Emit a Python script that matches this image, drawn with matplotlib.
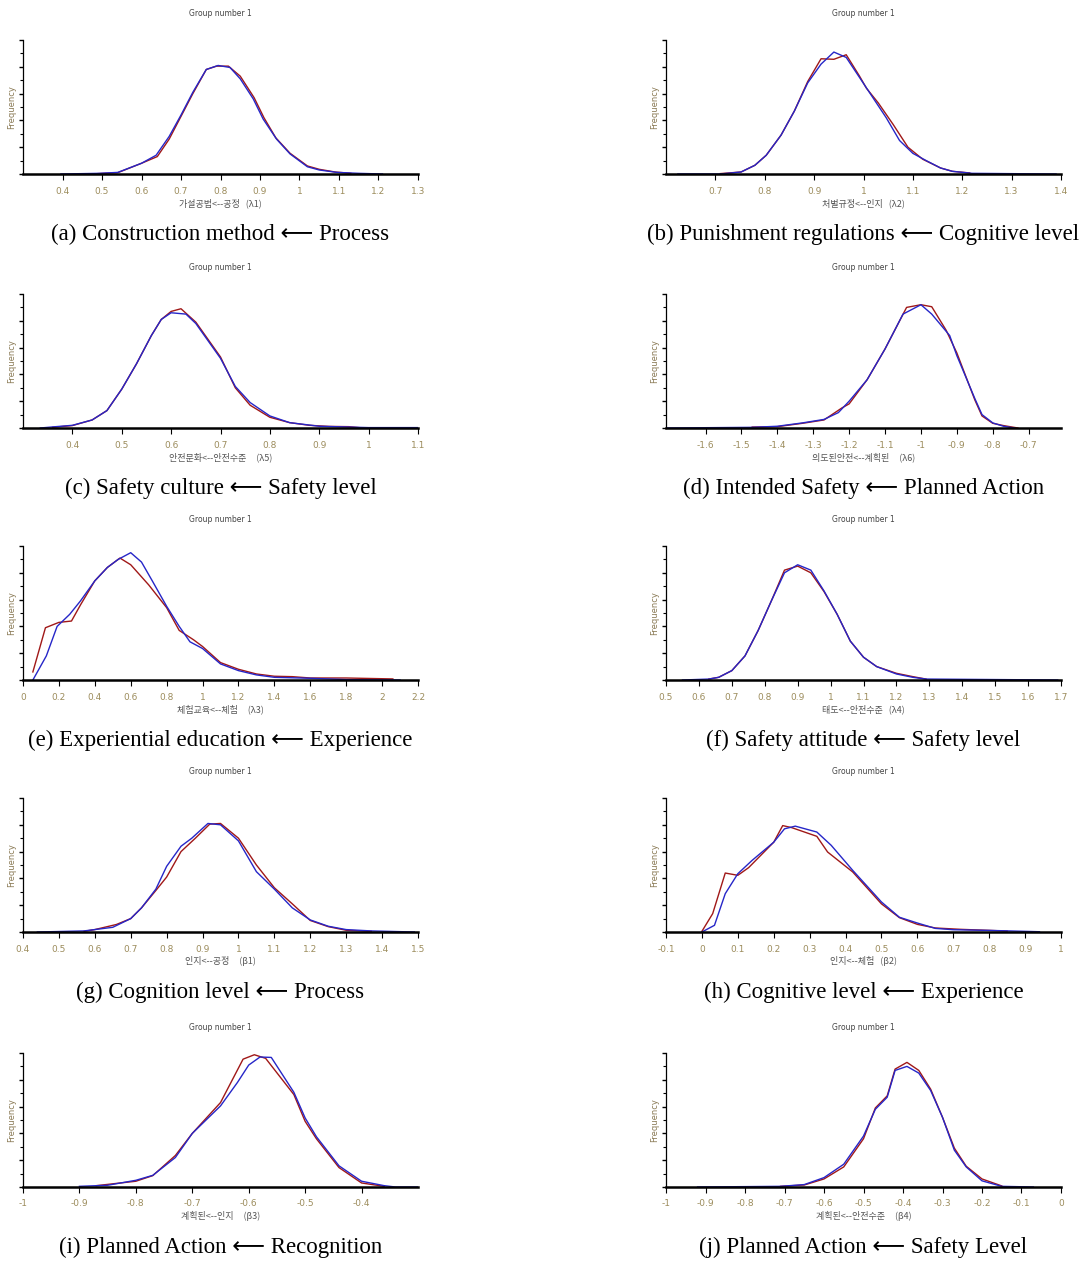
import matplotlib.pyplot as plt
import numpy as np

W, H = 1084, 1261

# ---- data (y in % of axis height) ----
# (a)
a_x_blue = [0.396, 0.493, 0.54, 0.6, 0.637, 0.67, 0.7, 0.73, 0.764, 0.794, 0.824, 0.85, 0.883, 0.908, 0.942, 0.976, 1.02, 1.05, 1.095, 1.15, 1.21]
a_y_blue = [0, 0.5, 1.2, 8, 14, 28, 44, 61, 78, 81, 79.5, 71, 56, 41, 26, 15, 5.4, 3, 1.2, 0.5, 0]
a_x_red = [0.49, 0.54, 0.6, 0.64, 0.67, 0.7, 0.73, 0.764, 0.79, 0.82, 0.85, 0.885, 0.91, 0.94, 0.976, 1.02, 1.05, 1.09, 1.13]
a_y_red = [0.3, 1.0, 8, 13, 26, 43, 60, 78, 80.5, 80.5, 73, 57, 42, 27, 15.5, 6, 3.5, 1.5, 0.5]

# (b)
b_x_blue = [0.624, 0.71, 0.752, 0.78, 0.803, 0.833, 0.86, 0.887, 0.914, 0.94, 0.965, 0.992, 1.019, 1.046, 1.073, 1.1, 1.127, 1.156, 1.18, 1.22, 1.39]
b_y_blue = [0, 0, 1.5, 6.5, 14, 29, 47, 68, 82, 91, 87, 72, 57, 42, 25, 15.4, 10, 4.5, 2, 0.5, 0]
b_x_red = [0.71, 0.752, 0.78, 0.803, 0.833, 0.86, 0.887, 0.914, 0.94, 0.965, 0.992, 1.006, 1.03, 1.06, 1.09, 1.12, 1.156, 1.18, 1.215]
b_y_red = [0.3, 1.5, 6.5, 14, 29, 47, 69, 86, 85.6, 89, 73, 64, 53, 37, 20, 11, 4.5, 2, 0.8]

# (c)
c_x_blue = [0.335, 0.36, 0.4, 0.44, 0.47, 0.5, 0.53, 0.56, 0.58, 0.6, 0.63, 0.65, 0.7, 0.73, 0.76, 0.8, 0.84, 0.9, 1.0, 1.1]
c_y_blue = [0, 0.8, 2, 6, 13, 29, 48, 69, 81, 86, 85, 78, 52, 31, 19, 9, 4, 1.3, 0.3, 0.3]
c_x_red = [0.36, 0.4, 0.44, 0.47, 0.5, 0.53, 0.56, 0.58, 0.6, 0.62, 0.65, 0.7, 0.73, 0.76, 0.8, 0.84, 0.88, 0.92, 0.96, 0.98]
c_y_red = [0.5, 1.8, 6, 13, 29, 48, 69, 81, 87, 89, 79, 53, 30, 17, 8, 4, 2, 1.2, 1.0, 0.3]

# (d)
d_x_blue = [-1.71, -1.47, -1.4, -1.33, -1.27, -1.23, -1.2, -1.15, -1.1, -1.05, -1.0, -0.97, -0.92, -0.9, -0.85, -0.83, -0.8, -0.77, -0.74]
d_y_blue = [0, 0.5, 1.3, 3.8, 6.4, 11.5, 20, 36, 59, 85, 92, 85, 69, 54, 22, 10, 3.8, 1.3, 0]
d_x_red = [-1.47, -1.4, -1.33, -1.27, -1.22, -1.2, -1.15, -1.1, -1.04, -1.0, -0.97, -0.93, -0.9, -0.85, -0.83, -0.8, -0.77, -0.73]
d_y_red = [0.7, 1.0, 3.5, 6.0, 15, 18, 36, 59, 90, 92, 90.5, 73, 56, 21, 9, 3.5, 1.8, 0]

# (e)
e_x_blue = [0.055, 0.13, 0.19, 0.26, 0.32, 0.4, 0.47, 0.53, 0.6, 0.66, 0.72, 0.8, 0.87, 0.93, 1.0, 1.1, 1.2, 1.3, 1.4, 1.6, 1.8, 2.1]
e_y_blue = [0, 18, 40, 49, 59, 74, 84, 90, 95, 88, 74, 55, 40, 28.5, 23.5, 12, 7, 3.8, 2, 1.3, 0.3, 0]
e_x_red = [0.055, 0.125, 0.2, 0.27, 0.32, 0.4, 0.47, 0.54, 0.6, 0.7, 0.8, 0.87, 0.95, 1.0, 1.1, 1.2, 1.3, 1.4, 1.5, 1.6, 1.8, 2.06]
e_y_red = [6, 39, 43, 44, 56, 74, 84, 91, 86, 71, 54, 37, 30, 25, 13, 8, 4.5, 2.8, 2.5, 1.5, 1.5, 0.8]

# (f)
f_x_blue = [0.55, 0.63, 0.66, 0.7, 0.74, 0.78, 0.82, 0.86, 0.9, 0.94, 0.98, 1.02, 1.06, 1.1, 1.14, 1.2, 1.25, 1.29, 1.69]
f_y_blue = [0, 0.7, 2, 7, 18, 37, 59, 80, 86, 82, 66.5, 49, 29, 17, 10, 4.5, 2, 0.7, 0]
f_x_red = [0.63, 0.66, 0.7, 0.74, 0.78, 0.82, 0.86, 0.9, 0.94, 0.98, 1.02, 1.06, 1.1, 1.14, 1.2, 1.25, 1.29]
f_y_red = [0.7, 2, 7, 18, 37, 59, 82, 85, 80, 66, 49, 29, 17, 10, 5, 2.5, 0.7]

# (g)
g_x_blue = [0.44, 0.57, 0.65, 0.7, 0.73, 0.77, 0.8, 0.84, 0.87, 0.915, 0.95, 1.0, 1.05, 1.1, 1.15, 1.2, 1.25, 1.3, 1.37, 1.49]
g_y_blue = [0, 0.8, 3.5, 10, 18, 32, 49, 64, 70, 81, 80, 68, 45, 32, 18, 9, 4.3, 1.8, 0.8, 0]
g_x_red = [0.57, 0.6, 0.66, 0.7, 0.73, 0.77, 0.8, 0.84, 0.88, 0.92, 0.95, 1.0, 1.05, 1.1, 1.15, 1.2, 1.25, 1.3, 1.37]
g_y_red = [0.5, 1.8, 5.6, 10, 18, 31, 41, 60, 70, 80.5, 81, 70, 50, 33, 21, 8.6, 4, 1.3, 0.5]

# (h)
h_x_blue = [0.0, 0.035, 0.065, 0.1, 0.14, 0.2, 0.23, 0.26, 0.32, 0.36, 0.42, 0.5, 0.55, 0.6, 0.65, 0.7, 0.8, 0.94]
h_y_blue = [0, 5, 28.6, 43.5, 53.5, 67, 77, 79, 74.6, 64.7, 46, 22.4, 11, 6.7, 2.7, 1.7, 1.2, 0.2]
h_x_red = [0.0, 0.03, 0.065, 0.1, 0.13, 0.2, 0.225, 0.25, 0.32, 0.35, 0.42, 0.5, 0.55, 0.6, 0.65, 0.72, 0.85]
h_y_red = [0.5, 13.7, 44, 42.3, 48, 67, 79.4, 77.9, 71.4, 59.7, 44.8, 21, 10.7, 5.7, 3, 2, 0.7]

# (i)
i_x_blue = [-0.9, -0.85, -0.8, -0.77, -0.73, -0.7, -0.65, -0.62, -0.6, -0.58, -0.56, -0.52, -0.5, -0.48, -0.44, -0.4, -0.36, -0.34, -0.3]
i_y_blue = [0.5, 1.3, 5, 8.7, 22, 40, 60.5, 78, 91, 97, 96.7, 70.7, 51.5, 37.5, 15.8, 4.3, 1, 0, 0]
i_x_red = [-0.87, -0.8, -0.77, -0.73, -0.7, -0.65, -0.61, -0.59, -0.57, -0.52, -0.5, -0.48, -0.44, -0.4, -0.36]
i_y_red = [1, 4.3, 8.5, 23.5, 40, 63, 95.4, 98.7, 96, 69, 49, 36, 14.5, 3, 0.5]

# (j)
j_x_blue = [-0.92, -0.71, -0.65, -0.6, -0.55, -0.5, -0.47, -0.44, -0.42, -0.39, -0.36, -0.33, -0.3, -0.27, -0.24, -0.2, -0.15, -0.07]
j_y_blue = [0, 0.5, 1.8, 7, 17, 38, 58, 67, 87, 90, 85, 72, 52, 27.5, 15, 4.6, 0.5, 0]
j_x_red = [-0.71, -0.65, -0.6, -0.55, -0.5, -0.47, -0.44, -0.42, -0.39, -0.36, -0.33, -0.3, -0.27, -0.24, -0.2, -0.15]
j_y_red = [0.5, 1.5, 6, 15, 36, 59, 68, 88, 93, 87, 73, 52, 29, 15.5, 6, 0.8]

xlabels = ["가설공법<--공정   (λ1)", "처벌규정<--인지   (λ2)",
           "안전문화<--안전수준     (λ5)", "의도된안전<--계획된     (λ6)",
           "체험교육<--체험     (λ3)", "태도<--안전수준   (λ4)",
           "인지<--공정     (β1)", "인지<--체험   (β2)",
           "계획된<--인지     (β3)", "계획된<--안전수준     (β4)"]
captions = ["(a) Construction method \u27f5 Process",
            "(b) Punishment regulations \u27f5 Cognitive level",
            "(c) Safety culture \u27f5 Safety level",
            "(d) Intended Safety \u27f5 Planned Action",
            "(e) Experiential education \u27f5 Experience",
            "(f) Safety attitude \u27f5 Safety level",
            "(g) Cognition level \u27f5 Process",
            "(h) Cognitive level \u27f5 Experience",
            "(i) Planned Action \u27f5 Recognition",
            "(j) Planned Action \u27f5 Safety Level"]
xlims = [(0.3, 1.3), (0.6, 1.4), (0.3, 1.1), (-1.71, -0.61), (0, 2.2),
         (0.5, 1.7), (0.4, 1.5), (-0.1, 1.0), (-1.0, -0.3), (-1.0, 0.0)]
xticks = [np.arange(0.4, 1.31, 0.1), np.arange(0.7, 1.41, 0.1), np.arange(0.4, 1.11, 0.1),
          np.arange(-1.6, -0.69, 0.1), np.arange(0, 2.21, 0.2), np.arange(0.5, 1.71, 0.1),
          np.arange(0.4, 1.51, 0.1), np.arange(-0.1, 1.01, 0.1), np.arange(-1.0, -0.39, 0.1),
          np.arange(-1.0, 0.01, 0.1)]

curves = [(a_x_red, a_y_red, a_x_blue, a_y_blue), (b_x_red, b_y_red, b_x_blue, b_y_blue),
          (c_x_red, c_y_red, c_x_blue, c_y_blue), (d_x_red, d_y_red, d_x_blue, d_y_blue),
          (e_x_red, e_y_red, e_x_blue, e_y_blue), (f_x_red, f_y_red, f_x_blue, f_y_blue),
          (g_x_red, g_y_red, g_x_blue, g_y_blue), (h_x_red, h_y_red, h_x_blue, h_y_blue),
          (i_x_red, i_y_red, i_x_blue, i_y_blue), (j_x_red, j_y_red, j_x_blue, j_y_blue)]

def fmt(v):
    s = f"{v:.1f}"
    if s.endswith(".0"):
        s = s[:-2]
    if s == "-0":
        s = "0"
    return s

fig = plt.figure(figsize=(W / 100, H / 100), dpi=100)
tick_col = '#9c8c5c'
row_tops = [40, 294, 546, 798, 1053]
col_lefts = [23, 666]
ax_w, ax_h = 395, 134

for k in range(10):
    r, c = k // 2, k % 2
    left, top = col_lefts[c], row_tops[r]
    ax = fig.add_axes([left / W, 1 - (top + ax_h) / H, ax_w / W, ax_h / H])
    xr, yr, xb, yb = curves[k]
    ax.plot(xr, yr, color='#a01818', lw=1.0)
    ax.plot(xb, yb, color='#2626c8', lw=1.0)
    ax.set_xlim(*xlims[k])
    ax.set_ylim(0, 100)
    ax.set_xticks(xticks[k])
    ax.set_xticklabels([fmt(v) for v in xticks[k]], fontsize=6.5, color=tick_col)
    ax.set_yticks(np.arange(0, 101, 20))
    ax.set_yticks(np.arange(10, 100, 20), minor=True)
    ax.set_yticklabels([])
    ax.tick_params(axis='x', direction='out', length=4, width=0.8, pad=5)
    ax.tick_params(axis='y', direction='out', length=3, width=1.0)
    ax.tick_params(axis='y', which='minor', direction='out', length=2, width=0.8)
    for s in ['top', 'right']:
        ax.spines[s].set_visible(False)
    ax.spines['bottom'].set_linewidth(1.8)
    ax.spines['left'].set_linewidth(0.9)
    ax.set_ylabel("Frequency", fontsize=6, color='#8a7a55')
    ax.yaxis.set_label_coords(-7 / ax_w, 0.5)
    ax.set_xlabel(xlabels[k], fontsize=6.5, color='#555555', labelpad=2,
                  family=['Noto Sans CJK KR', 'DejaVu Sans'])
    cx = left + ax_w / 2
    fig.text(cx / W, 1 - (top - 26) / H, "Group number 1", fontsize=5.5,
             color='#444444', ha='center', va='center')
    fig.text(cx / W, 1 - (top + ax_h + 60) / H, captions[k], fontsize=16.5,
             family=['Liberation Serif', 'DejaVu Sans'], ha='center', va='center')

fig.savefig("out.png", dpi=100)
